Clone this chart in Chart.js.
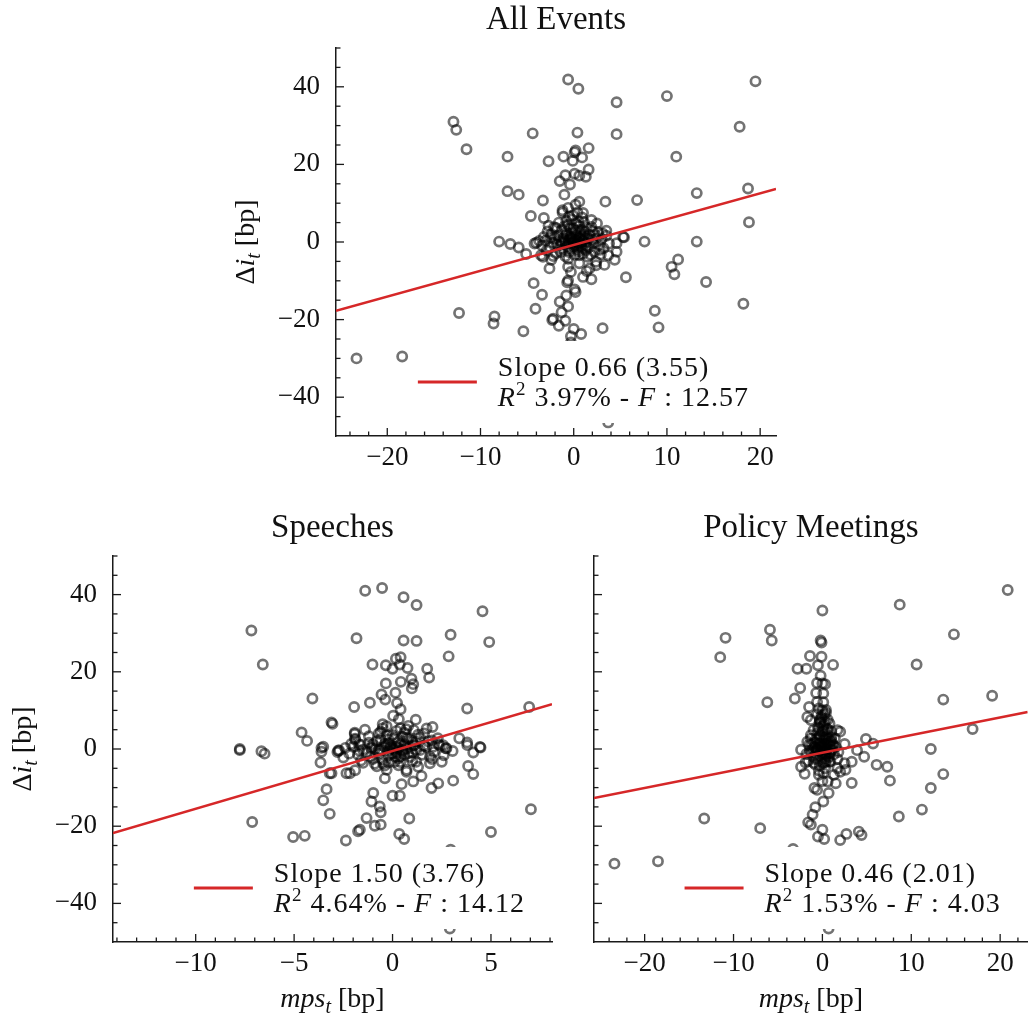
<!DOCTYPE html>
<html><head><meta charset="utf-8">
<script src="https://cdn.jsdelivr.net/npm/chart.js@4.4.1/dist/chart.umd.min.js"></script>
<style>
html,body{margin:0;padding:0;background:#fff;width:1035px;height:1018px;overflow:hidden}
canvas{position:absolute}
</style></head><body>
<canvas id="cAll" width="600" height="490" style="left:200px;top:0px"></canvas>
<canvas id="cSp" width="570" height="518" style="left:0px;top:500px"></canvas>
<canvas id="cPo" width="465" height="518" style="left:570px;top:500px"></canvas>
<script>
// ---------------- DATA ----------------
const panelTitles = ['All Events', 'Speeches', 'Policy Meetings'];
const legendSlope = ['0.66 (3.55)', '1.50 (3.76)', '0.46 (2.01)'];
const legendR2 = ['3.97%', '4.64%', '1.53%'];
const legendF = ['12.57', '14.12', '4.03'];

const allXTicks = [-20, -10, 0, 10, 20];
const allXMinor = [-24, -22, -18, -16, -14, -12, -8, -6, -4, -2, 2, 4, 6, 8, 12, 14, 16, 18];
const speechXTicks = [-10, -5, 0, 5];
const speechXMinor = [-14, -13, -12, -11, -9, -8, -7, -6, -4, -3, -2, -1, 1, 2, 3, 4, 6, 7, 8];
const policyXTicks = [-20, -10, 0, 10, 20];
const policyXMinor = [-24, -22, -18, -16, -14, -12, -8, -6, -4, -2, 2, 4, 6, 8, 12, 14, 16, 18, 22];
const yTicks = [-40, -20, 0, 20, 40];
const yMinor = [-45, -35, -30, -25, -15, -10, -5, 5, 10, 15, 25, 30, 35, 45, 50];

const allFitX = [-25.5, 21.7], allFitY = [-17.7, 13.7];
const speechFitX = [-14.2, 8.1], speechFitY = [-21.8, 11.6];
const policyFitX = [-25.7, 23.1], policyFitY = [-12.7, 9.6];

const allEvents = [
[-0.6,41.9],[0.5,39.5],[4.6,36.0],[10.0,37.6],[19.5,41.4],[-12.9,31.0],[-12.6,28.9],[-11.5,23.9],[-4.4,28.0],[0.4,28.2],[4.6,27.8],[17.8,29.7],[-7.1,22.0],[-2.7,20.8],[-1.1,22.0],[0.2,23.6],[0.1,23.1],[0.9,21.8],[1.6,24.2],[-0.1,20.9],[11.0,22.0],
[-7.1,13.1],[-5.9,12.2],[-3.3,10.7],[-1.0,12.2],[0.6,10.4],[3.4,10.4],[6.8,10.8],[13.2,12.6],[18.7,13.8],[18.8,5.1],
[-1.5,15.7],[-0.9,17.2],[-0.4,14.8],[0.1,17.6],[0.6,17.1],[1.3,16.8],[1.6,18.7],
[-4.6,6.7],[-3.2,6.2],[-1.2,8.2],[-1.2,7.6],[1.0,7.5],[1.9,5.7],[2.5,4.8],[3.5,2.9],[5.3,1.3],[7.6,0.1],[13.2,0.1],[-2.7,4.2],[-1.9,3.6],
[-8.0,0.1],[-6.8,-0.5],[-5.9,-1.4],[-5.1,-3.1],[-4.0,-0.2],[-3.7,0.3],[-4.2,-0.4],
[5.4,1.2],[4.6,-0.3],[4.6,-2.5],[4.4,-4.6],[3.3,-5.9],[5.6,-9.1],[11.2,-4.5],[10.5,-6.4],[10.8,-8.3],[14.2,-10.3],[18.2,-15.9],[8.7,-17.7],[9.1,-22.0],[3.1,-22.2],
[-4.3,-10.6],[-3.4,-13.6],[-4.1,-17.2],[-5.4,-23.0],[-8.5,-19.2],[-8.6,-21.0],[-12.3,-18.3],[-23.3,-30.0],[-18.4,-29.5],
[-0.6,-6.4],[-0.6,-9.9],[-0.7,-10.4],[0.1,-12.2],[0.2,-12.9],[-0.8,-13.8],[-1.5,-15.4],[-0.6,-16.6],[-1.3,-18.1],[-2.2,-19.8],[-2.3,-20.1],[-1.6,-21.6],[-0.9,-20.3],[0.0,-22.4],[0.8,-23.7],[-0.3,-24.3],[-0.3,-25.9],[3.7,-46.5],
[1.0,-9.0],[1.9,-9.6],[1.4,-7.5],[2.4,-6.0],[-2.6,-6.8],[-3.3,-3.8],[-2.4,-4.6],[-3.5,-3.4],[-0.3,-7.7],[0.6,-5.5],[2.4,-5.1],[3.7,-3.4],[1.7,-6.8],
[0,0],[0.2,0.5],[-0.3,0.8],[0.5,-0.4],[-0.6,-0.3],[0.9,0.6],[-1.0,0.4],[1.3,-0.2],[-1.4,-0.8],[0.3,1.6],[-0.2,2.2],[0.7,2.6],[-0.8,1.8],[1.1,1.9],[-1.2,-1.9],[0.4,-1.8],[-0.5,-2.6],[1.6,-1.4],[2.0,0.4],[-2.0,0.9],
[-1.8,-0.6],[2.3,1.8],[-2.4,2.0],[0.0,3.4],[0.6,4.1],[-0.6,4.4],[1.4,3.6],[-1.3,3.1],[2.7,-0.7],[-2.6,-1.3],[0.1,-3.3],[-0.9,-3.7],[1.0,-3.0],[2.2,-2.5],[-1.9,-2.9],[3.0,0.8],[-3.0,0.4],[0.5,5.3],[-0.2,5.8],[1.9,3.9],
[3.2,-1.6],[-2.9,-2.2],[0.8,-1.0],[-0.4,1.2],[0.2,-0.9],[-0.1,0.3],[0.6,0.9],[-0.7,-1.1],[1.2,0.9],[-1.1,1.0],[2.6,2.6],[-2.1,3.8],[3.5,1.6],[1.5,-3.8],[-1.6,5.0],[0.9,6.3],[-0.5,6.6],[3.8,-0.4],[-3.4,-0.9],[2.9,-3.2],
[0.1,0.1],[0.4,0.3],[-0.2,-0.4],[0.7,-0.2],[-0.5,0.6],[1.0,0.2],[-0.9,-0.1],[0.3,-0.6],[-0.3,1.5],[0.9,1.4],[-1.5,0.3],[1.6,0.9],[-0.8,2.6],[0.2,2.9],[1.2,2.7],[-1.7,1.6],[2.1,-0.3],[-2.2,-0.2],[0.5,-2.4],[-0.3,-1.6],
[1.3,-2.1],[-1.4,-2.6],[0.0,-1.2],[0.8,3.2],[-0.4,3.6],[1.7,1.9],[-2.5,1.2],[2.4,0.9],[-1.0,4.0],[0.3,4.7],[1.1,5.1],[-0.8,5.4],[2.0,2.9],[-2.8,2.7],[0.6,-3.4],[-0.6,-4.3],[1.8,-3.3],[-2.2,-3.6],[3.1,2.2],[-3.2,1.3],
[2.8,-2.0],[-0.1,6.8],[0.4,7.6],[-0.6,8.8],[0.2,9.6],[1.4,-0.9],[-1.3,0.0],[0.6,1.3],[-0.2,0.9],[0.9,-1.5]
];

const speeches = [
[-1.39,41.0],[-0.53,41.7],[0.56,39.3],[1.22,37.3],[4.57,35.7],[-7.17,30.7],[-6.59,21.9],[-1.83,28.7],[0.56,28.1],[1.22,28.0],[2.95,29.6],[4.91,27.7],[2.85,24.0],[-1.02,21.9],[-0.34,21.7],[0.0,20.8],[0.17,23.4],[0.41,23.8],[0.37,21.9],[0.76,21.0],
[1.76,20.8],[1.86,18.5],[0.96,18.2],[1.05,16.8],[0.98,15.7],[0.42,17.4],[-0.34,17.0],[-0.56,14.1],[-0.37,12.8],[0.15,14.6],[0.23,11.9],[0.41,10.3],[0.03,8.6],[0.32,7.7],[1.18,7.6],[1.08,4.9],[1.73,5.3],[2.03,5.7],[3.79,10.5],[6.94,10.9],
[-4.07,13.1],[-1.95,10.9],[-1.15,12.0],[-3.10,6.9],[-3.05,6.5],[-1.92,4.2],[-1.92,3.9],[-4.62,4.3],[-4.34,2.1],[-3.52,0.6],[-7.76,0.0],[-7.76,-0.3],[-6.66,-0.6],[-6.5,-1.2],[3.39,2.8],[3.79,1.7],[4.44,0.5],[2.32,1.3],[2.74,0.2],[2.57,1.0],[2.06,0.6],
[-3.61,0.3],[-3.61,-0.7],[-3.66,-3.5],[-3.19,-6.3],[-3.35,-10.4],[-3.52,-13.3],[-3.19,-16.8],[-7.13,-18.9],[-5.05,-22.8],[-4.46,-22.5],[-2.37,-23.7],[-2.71,-0.4],[-2.34,-6.3],[-1.9,-5.5],[-0.98,-11.4],[-1.07,-13.6],[-0.65,-14.9],[-0.6,-16.4],[-1.32,-17.9],[-0.90,-19.9],
[-0.6,-19.6],[-1.66,-20.9],[-1.75,-21.3],[0.34,-22.0],[0.59,-23.3],[0.85,-18.0],[0.0,-12.1],[0.37,-12.1],[0.46,-9.1],[1.05,-8.4],[1.47,-7.0],[1.98,-10.1],[2.32,-8.9],[3.08,-8.2],[3.84,-4.4],[4.10,-6.5],[5.0,-21.5],[7.03,-15.6],[2.95,-26.1],[2.91,-46.5],
[3.05,-0.5],[4.10,-0.9],[4.47,0.4],[3.8,1.0],[1.9,-3.7],[0.71,-5.4],[-0.2,-3.5],[0.15,-2.0],[-2.76,-0.4],[-2.0,0.6],[-1.75,-1.5],[-2.17,-6.3],[-3.1,-6.3],[-0.39,-7.6],[-0.3,-5.4],[-0.48,-3.7],[0.71,-5.9],
[0,0],[0.2,0.6],[-0.3,1.0],[0.5,-0.5],[-0.6,-0.2],[0.9,0.7],[-1.0,0.5],[1.2,-0.3],[-1.3,-0.9],[0.3,1.8],[-0.2,2.5],[0.7,2.9],[-0.8,2.0],[1.0,2.1],[-1.1,-2.0],[0.4,-1.9],[-0.5,-2.7],[1.5,-1.5],[1.7,0.6],[-1.6,1.1],
[-1.7,-0.4],[1.8,2.0],[-1.9,2.4],[0.0,3.6],[0.6,4.2],[-0.6,4.5],[1.3,3.7],[-1.2,3.3],[2.1,-0.8],[-2.2,-1.2],[0.1,-3.4],[-0.9,-3.8],[1.0,-3.1],[2.0,-2.6],[-1.6,-3.0],[2.4,0.9],[-2.4,0.3],[0.4,5.4],[-0.3,5.9],[1.6,4.0],
[2.6,-1.6],[-2.5,-2.2],[0.8,-1.1],[-0.4,1.3],[0.2,-1.0],[-0.1,0.4],[0.6,1.0],[-0.7,-1.2],[1.1,1.0],[-1.0,1.2],[2.3,2.8],[-0.8,-4.5],[0.3,-4.2],[1.3,-4.6],[-1.4,5.0],[0.8,6.0],[-0.5,6.4],[2.7,0.2],[-2.8,-0.8],[2.5,-3.3],
[0.1,0.1],[0.3,0.3],[-0.2,-0.4],[0.5,-0.2],[-0.4,0.6],[0.7,0.2],[-0.7,-0.1],[0.2,-0.6],[-0.2,1.5],[0.6,1.4],[-1.1,0.3],[1.1,0.9],[-0.6,2.6],[0.1,2.9],[0.8,2.7],[-1.2,1.6],[1.4,-0.3],[-1.5,-0.2],[0.3,-2.4],[-0.2,-1.6],
[0.9,-2.1],[-1.0,-2.6],[0.0,-1.2],[0.5,3.2],[-0.3,3.6],[1.2,1.9],[-1.7,1.2],[1.6,0.9],[-0.7,4.0],[0.2,4.7],[0.7,5.1],[-0.5,5.4],[1.4,2.9],[-1.9,2.7],[0.4,-3.4],[-0.4,-4.3],[1.2,-3.3],[-1.5,-3.6],[2.0,2.2],[-2.1,1.3],
[1.9,-2.0],[1.0,-0.9],[-0.9,0.0],[0.4,1.3],[-0.1,0.9],[0.6,-1.5]
];

const policyMeetings = [
[20.85,41.2],[8.7,37.4],[0.0,35.9],[14.8,29.7],[-5.9,30.9],[-5.7,28.1],[-10.9,28.8],[-11.5,23.8],[-0.2,28.1],[-0.1,27.6],[-1.4,24.1],[-0.1,23.9],[-2.8,20.8],[-1.8,20.8],[-0.5,21.7],[1.2,21.8],[-0.2,19.0],[0.0,17.0],[-0.6,17.1],[0.3,16.8],
[10.6,21.9],[13.6,12.8],[19.1,13.8],[16.9,5.2],[-6.2,12.1],[-3.1,13.1],[-2.5,15.8],[-1.5,10.9],[-0.7,14.5],[0.1,14.4],[0.1,12.1],[-0.6,12.2],[-0.4,10.5],[0.4,10.1],[-1.7,8.3],[-1.3,7.5],[-0.3,7.5],[0.8,6.6],[1.7,4.9],[2.0,4.5],
[4.9,2.6],[5.7,1.4],[2.5,1.3],[12.2,0.0],[-2.4,-0.2],[-1.7,1.9],
[-2.0,-6.4],[-1.9,-3.5],[13.6,-6.5],[12.2,-10.1],[11.2,-15.7],[8.6,-17.5],[7.6,-8.2],[7.3,-4.6],[6.1,-4.1],[4.7,-2.0],[3.9,-0.3],[3.3,-8.8],[3.3,-3.3],[2.6,-5.4],[1.7,-5.0],[2.5,-3.7],[1.5,-8.9],[0.6,-8.4],[0.7,-11.4],[0.1,-13.6],
[-0.9,-10.1],[-0.6,-10.6],[0.0,-8.3],[-0.4,-6.7],[1.3,-6.7],[0.4,-3.3],[-0.8,-15.1],[-1.1,-17.0],[-1.6,-19.0],[-1.3,-19.6],[0.0,-20.9],[-0.5,-22.7],[0.2,-23.3],[2.0,-23.6],[2.7,-22.0],[4.1,-21.4],[4.4,-22.3],[-3.3,-25.9],[-7.0,-20.5],[-13.3,-18.0],
[-18.5,-29.1],[-23.4,-29.7],[0.7,-46.5],[-2.4,-4.6],[2.0,-5.9],
[0,0],[0.2,0.8],[-0.3,1.4],[0.5,-0.5],[-0.6,-0.3],[0.8,1.0],[-0.9,0.5],[1.1,-0.2],[-1.2,-0.9],[0.3,2.4],[-0.2,3.0],[0.6,3.6],[-0.7,2.6],[1.0,2.2],[-1.0,-2.0],[0.4,-1.8],[-0.4,-2.8],[1.3,-1.4],[1.5,0.5],[-1.5,1.1],
[-1.4,-0.5],[1.4,2.8],[-1.3,3.6],[0.0,4.5],[0.5,5.2],[-0.5,5.6],[1.0,4.6],[-1.0,4.9],[1.8,-0.8],[-1.8,-1.3],[0.1,-3.6],[-0.8,-4.0],[0.9,-3.2],[1.7,-2.6],[-1.6,-3.1],[0.2,6.4],[-0.3,7.0],[0.6,7.6],[-0.1,8.6],[0.4,9.4],
[-0.6,9.0],[0.3,-5.0],[-0.4,-5.6],[0.8,-1.1],[-0.4,1.3],[0.2,-1.0],[-0.1,0.4],[0.6,1.9],[-0.7,-1.2],[1.2,1.2],
[0.1,0.1],[0.3,0.3],[-0.2,-0.4],[0.4,-0.2],[-0.3,0.6],[0.6,0.2],[-0.6,-0.1],[0.2,-0.6],[-0.2,1.5],[0.5,1.4],[-0.8,0.3],[0.9,0.9],[-0.5,2.6],[0.1,2.9],[0.7,2.7],[-0.9,1.6],[1.0,-0.3],[-1.1,-0.2],[0.3,-2.4],[-0.2,-1.6],
[0.7,-2.1],[-0.8,-2.6],[0.0,-1.2],[0.4,3.2],[-0.3,3.6],[0.9,1.9],[-1.2,1.2],[1.2,0.9],[-0.6,4.0],[0.2,4.7],[0.6,5.1],[-0.4,5.4],[1.0,2.9],[-1.3,2.7],[0.3,-3.4],[-0.3,-4.3],[0.8,-3.3],[-1.0,-3.6],[0.1,6.0],[-0.2,6.8],
[0.3,7.2],[-0.1,8.0],[0.2,9.0],[0.0,10.0],[0.8,-0.9],[-0.6,0.0],[0.3,1.3],[-0.1,0.9],[0.4,-1.5],[0.1,-6.2]
];

// ---------------- RENDERING ----------------
const FAM = '"Liberation Serif", "Times New Roman", serif';
const INK = '#1a1a1a';
const PT = 'rgba(0,0,0,0.55)';
const RED = '#d62728';

function fmt(v){ return v < 0 ? '\u2212' + Math.abs(v) : String(v); }
function setFont(ctx, s){ ctx.font = (s.it ? 'italic ' : '') + s.size + 'px ' + FAM; }
function segW(ctx, segs){ let w = 0; segs.forEach(s => { setFont(ctx, s); w += ctx.measureText(s.t).width; }); return w; }
function drawSegs(ctx, segs, x, base){ let cx = x; segs.forEach(s => { setFont(ctx, s); ctx.fillText(s.t, cx, base + (s.dy || 0)); cx += ctx.measureText(s.t).width; }); }

const decor = {
  id: 'decor',
  afterDatasetsDraw(chart, args, o) {
    const ctx = chart.ctx, a = chart.chartArea;
    const xs = chart.scales.x, ys = chart.scales.y;
    ctx.save();
    // inward ticks
    ctx.strokeStyle = INK; ctx.lineWidth = 1.3;
    const xt = (v, len) => { const p = xs.getPixelForValue(v); ctx.beginPath(); ctx.moveTo(p, a.bottom); ctx.lineTo(p, a.bottom - len); ctx.stroke(); };
    const yt = (v, len) => { const p = ys.getPixelForValue(v); ctx.beginPath(); ctx.moveTo(a.left, p); ctx.lineTo(a.left + len, p); ctx.stroke(); };
    o.xMajor.forEach(v => xt(v, 8)); o.xMinor.forEach(v => xt(v, 4.5));
    o.yMajor.forEach(v => yt(v, 8)); o.yMinor.forEach(v => yt(v, 4.5));

    // legend (lower right)
    ctx.textAlign = 'left'; ctx.textBaseline = 'alphabetic'; ctx.fillStyle = '#111';
    if ('letterSpacing' in ctx) ctx.letterSpacing = '1px';
    const S = 28;
    const l1 = [{t: 'Slope ' + o.slope, size: S}];
    const l2 = [{t: 'R', it: true, size: S}, {t: '2', size: 19, dy: -11}, {t: ' ' + o.r2 + ' - ', size: S}, {t: 'F', it: true, size: S}, {t: ' : ' + o.f, size: S}];
    const tw = Math.max(segW(ctx, l1), segW(ctx, l2));
    const bR = a.right - 19, bB = a.bottom - 13, bT = bB - 82;
    const tx = bR - 8 - tw;
    const lx1 = tx - 21 - 59, lx0 = lx1 - 8;
    ctx.fillStyle = '#fff'; ctx.fillRect(lx0, bT, bR - lx0, bB - bT);
    ctx.strokeStyle = RED; ctx.lineWidth = 3; ctx.beginPath(); ctx.moveTo(lx1, bB - 41); ctx.lineTo(lx1 + 59, bB - 41); ctx.stroke();
    ctx.fillStyle = '#111';
    drawSegs(ctx, l1, tx, bB - 56 + 9);
    drawSegs(ctx, l2, tx, bB - 26 + 9);
    if ('letterSpacing' in ctx) ctx.letterSpacing = '0px';

    // panel title
    ctx.textAlign = 'center'; ctx.textBaseline = 'middle'; ctx.fillStyle = '#111';
    ctx.font = '33px ' + FAM;
    ctx.fillText(o.title, (a.left + a.right) / 2, a.top - 28);

    ctx.textAlign = 'left'; ctx.textBaseline = 'alphabetic';
    // y title
    if (o.yTitle) {
      const segs = [{t: '\u0394', size: 28}, {t: 'i', it: true, size: 28}, {t: 't', it: true, size: 20, dy: 6}, {t: ' [bp]', size: 28}];
      const w = segW(ctx, segs);
      ctx.save(); ctx.translate(a.left - 91, (a.top + a.bottom) / 2); ctx.rotate(-Math.PI / 2);
      drawSegs(ctx, segs, -w / 2, 9); ctx.restore();
    }
    // x title
    if (o.xTitle) {
      const segs = [{t: 'mps', it: true, size: 28}, {t: 't', it: true, size: 20, dy: 6}, {t: ' [bp]', size: 28}];
      const w = segW(ctx, segs);
      drawSegs(ctx, segs, (a.left + a.right) / 2 - w / 2, a.bottom + 56 + 9);
    }
    ctx.restore();
  }
};

function makeChart(id, c) {
  return new Chart(document.getElementById(id), {
    type: 'scatter',
    data: { datasets: [
      { type: 'line', data: c.fitX.map((x, i) => ({x: x, y: c.fitY[i]})), borderColor: RED, borderWidth: 2.5, pointRadius: 0, fill: false, tension: 0 },
      { data: c.pts.map(p => ({x: p[0], y: p[1]})), pointRadius: 4.6, pointBorderWidth: 2.7, borderWidth: 2.7, borderColor: PT, backgroundColor: 'rgba(0,0,0,0)', pointBackgroundColor: 'rgba(0,0,0,0)', pointBorderColor: PT }
    ]},
    options: {
      responsive: false, animation: false, events: [],
      layout: { padding: { top: c.padTop, right: c.padRight, left: 0, bottom: 0 } },
      plugins: { legend: { display: false }, tooltip: { enabled: false }, title: { display: false }, decor: c.decor },
      scales: {
        x: { type: 'linear', min: c.xMin, max: c.xMax,
             afterBuildTicks: s => { s.ticks = c.xMajor.map(v => ({value: v})); },
             afterFit: s => { s.height = c.xH; },
             ticks: { callback: v => fmt(v), font: { family: FAM, size: 27 }, color: '#111', padding: 6, maxRotation: 0, autoSkip: false },
             grid: { display: false, drawTicks: false },
             border: { display: true, color: INK, width: 1.5 } },
        y: { type: 'linear', min: -50, max: 50,
             afterBuildTicks: s => { s.ticks = yTicks.map(v => ({value: v})); },
             afterFit: s => { s.width = c.yW; },
             ticks: { display: c.yLabels, callback: v => fmt(v), font: { family: FAM, size: 27 }, color: '#111', padding: 16, autoSkip: false },
             grid: { display: false, drawTicks: false },
             border: { display: true, color: INK, width: 1.5 } }
      }
    },
    plugins: [decor]
  });
}

makeChart('cAll', { pts: allEvents, fitX: allFitX, fitY: allFitY, xMin: -25.5, xMax: 21.7, xMajor: allXTicks,
  padTop: 48, padRight: 24, xH: 54, yW: 136, yLabels: true,
  decor: { title: panelTitles[0], slope: legendSlope[0], r2: legendR2[0], f: legendF[0], xMajor: allXTicks, xMinor: allXMinor, yMajor: yTicks, yMinor: yMinor, yTitle: true, xTitle: false } });

makeChart('cSp', { pts: speeches, fitX: speechFitX, fitY: speechFitY, xMin: -14.2, xMax: 8.1, xMajor: speechXTicks,
  padTop: 56, padRight: 18, xH: 76, yW: 113, yLabels: true,
  decor: { title: panelTitles[1], slope: legendSlope[1], r2: legendR2[1], f: legendF[1], xMajor: speechXTicks, xMinor: speechXMinor, yMajor: yTicks, yMinor: yMinor, yTitle: true, xTitle: true } });

makeChart('cPo', { pts: policyMeetings, fitX: policyFitX, fitY: policyFitY, xMin: -25.7, xMax: 23.1, xMajor: policyXTicks,
  padTop: 56, padRight: 2, xH: 76, yW: 24, yLabels: false,
  decor: { title: panelTitles[2], slope: legendSlope[2], r2: legendR2[2], f: legendF[2], xMajor: policyXTicks, xMinor: policyXMinor, yMajor: yTicks, yMinor: yMinor, yTitle: false, xTitle: true } });
</script>
</body></html>
